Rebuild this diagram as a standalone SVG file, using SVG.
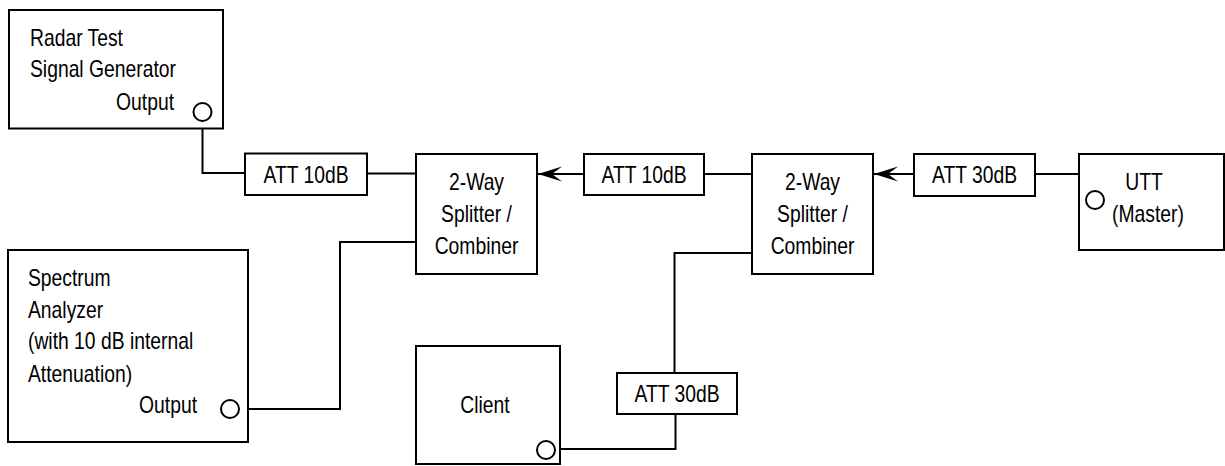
<svg xmlns="http://www.w3.org/2000/svg" width="1225" height="466" viewBox="0 0 1225 466">
<style>
.box{fill:#fff;stroke:#000;stroke-width:2}
.port{fill:#fff;stroke:#000;stroke-width:2}
.wire{fill:none;stroke:#000;stroke-width:2}
text{font-family:"Liberation Sans",Arial,sans-serif;font-size:23px;fill:#000}
.c{text-anchor:middle}
.e{text-anchor:end}
</style>
<defs>
<marker id="arr" markerUnits="userSpaceOnUse" markerWidth="26" markerHeight="16" refX="24" refY="8" orient="auto" viewBox="0 0 26 16">
<path d="M24,8 L0,0.5 L10,8 L0,15.5 Z" fill="#000"/>
</marker>
</defs>
<rect width="1225" height="466" fill="#fff"/>
<g id="connectors">
<path class="wire" d="M202.5,121 V173 H245"/>
<path class="wire" d="M367,173.5 H416"/>
<path class="wire" d="M584,174 H538" marker-end="url(#arr)"/>
<path class="wire" d="M704,174 H752"/>
<path class="wire" d="M914,174 H874" marker-end="url(#arr)"/>
<path class="wire" d="M1035,174 H1079"/>
<path class="wire" d="M239,409 H340 V242 H416"/>
<path class="wire" d="M752,253 H674.5 V373"/>
<path class="wire" d="M675.5,414 V449 H555"/>
</g>
<g id="radar">
<rect class="box" x="9" y="10" width="214" height="118.5"/>
<text transform="translate(30,46) scale(0.84,1)">Radar Test</text>
<text transform="translate(30,77) scale(0.84,1)">Signal Generator</text>
<text class="e" transform="translate(174,109.5) scale(0.84,1)">Output</text>
<circle class="port" cx="202.5" cy="112" r="9"/>
</g>
<g id="att1">
<rect class="box" x="245" y="153.5" width="122" height="41.5"/>
<text class="c" transform="translate(306,182.5) scale(0.84,1)">ATT 10dB</text>
</g>
<g id="splitter1">
<rect class="box" x="416" y="154" width="121" height="120"/>
<text class="c" transform="translate(476.5,190) scale(0.84,1)">2-Way</text>
<text class="c" transform="translate(476.5,222) scale(0.84,1)">Splitter /</text>
<text class="c" transform="translate(476.5,253.5) scale(0.84,1)">Combiner</text>
</g>
<g id="att2">
<rect class="box" x="584" y="154" width="120" height="41"/>
<text class="c" transform="translate(644,182.5) scale(0.84,1)">ATT 10dB</text>
</g>
<g id="splitter2">
<rect class="box" x="752" y="154" width="121" height="120"/>
<text class="c" transform="translate(812.5,190) scale(0.84,1)">2-Way</text>
<text class="c" transform="translate(812.5,222) scale(0.84,1)">Splitter /</text>
<text class="c" transform="translate(812.5,253.5) scale(0.84,1)">Combiner</text>
</g>
<g id="att3">
<rect class="box" x="914" y="154" width="121" height="42"/>
<text class="c" transform="translate(974.5,182.5) scale(0.84,1)">ATT 30dB</text>
</g>
<g id="utt">
<rect class="box" x="1079" y="154" width="145" height="96"/>
<circle class="port" cx="1095" cy="200" r="9"/>
<text class="c" transform="translate(1144,190) scale(0.84,1)">UTT</text>
<text class="c" transform="translate(1148,222) scale(0.84,1)">(Master)</text>
</g>
<g id="spectrum">
<rect class="box" x="8" y="250" width="240" height="192"/>
<text transform="translate(28,286) scale(0.84,1)">Spectrum</text>
<text transform="translate(28,317.5) scale(0.84,1)">Analyzer</text>
<text transform="translate(28,349) scale(0.84,1)">(with 10 dB internal</text>
<text transform="translate(28,381.5) scale(0.84,1)">Attenuation)</text>
<text class="e" transform="translate(197,413) scale(0.84,1)">Output</text>
<circle class="port" cx="230" cy="409" r="9"/>
</g>
<g id="att4">
<rect class="box" x="617" y="373" width="120" height="41"/>
<text class="c" transform="translate(677,401.5) scale(0.84,1)">ATT 30dB</text>
</g>
<g id="client">
<rect class="box" x="416" y="346" width="144" height="118"/>
<text class="c" transform="translate(485,413) scale(0.84,1)">Client</text>
<circle class="port" cx="546" cy="450" r="9"/>
</g>
</svg>
